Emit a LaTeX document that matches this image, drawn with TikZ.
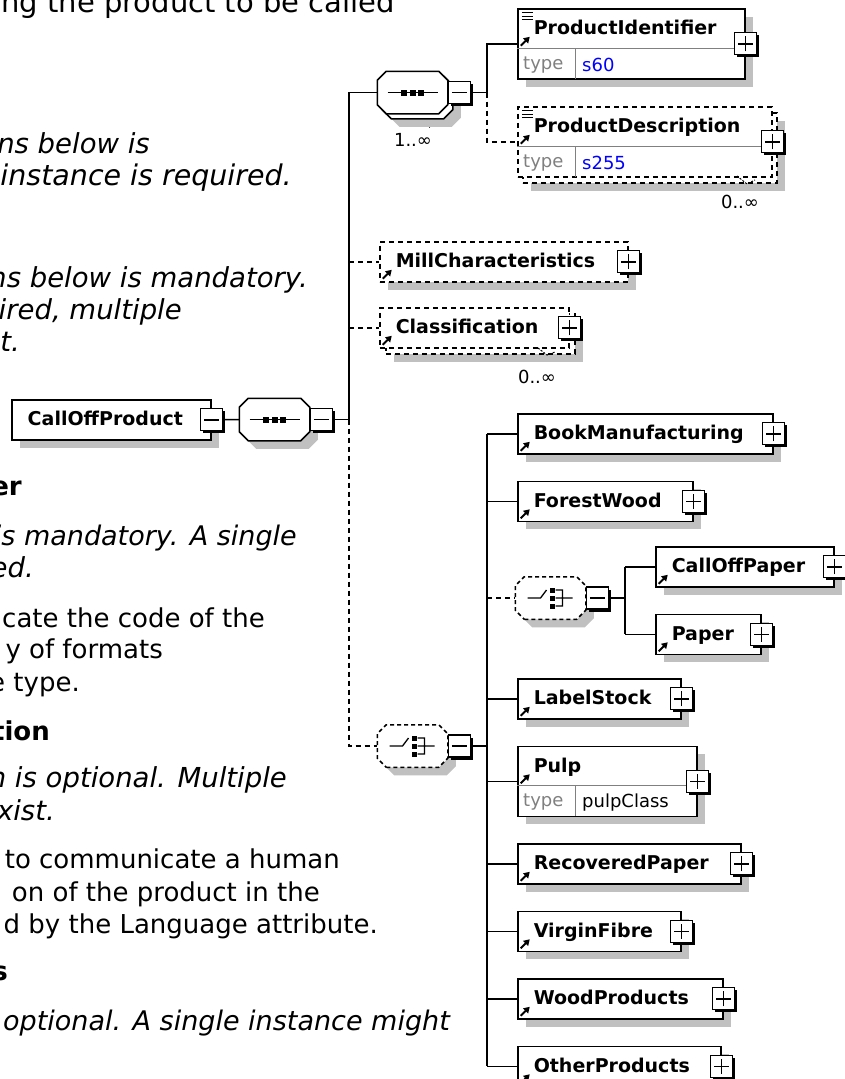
\documentclass[tikz,border=0pt]{standalone}
\usepackage{fontspec}
\setmainfont{DejaVu Sans}
\usetikzlibrary{arrows.meta,positioning,shadows}
\definecolor{ink}{HTML}{000000}
\definecolor{shade}{HTML}{C0C0C0}
\definecolor{rule}{HTML}{808080}
\definecolor{xsdblue}{HTML}{0000FF}

% compositor outline: a rectangle with 9pt cut corners
\makeatletter
\pgfdeclareshape{cutbox}{%
  \inheritsavedanchors[from=rectangle]%
  \inheritanchorborder[from=rectangle]%
  \inheritanchor[from=rectangle]{center}%
  \inheritanchor[from=rectangle]{north}%
  \inheritanchor[from=rectangle]{south}%
  \inheritanchor[from=rectangle]{east}%
  \inheritanchor[from=rectangle]{west}%
  \inheritanchor[from=rectangle]{north east}%
  \inheritanchor[from=rectangle]{north west}%
  \inheritanchor[from=rectangle]{south east}%
  \inheritanchor[from=rectangle]{south west}%
  \inheritanchor[from=rectangle]{text}%
  \inheritanchor[from=rectangle]{mid}%
  \inheritanchor[from=rectangle]{base}%
  \backgroundpath{%
    \southwest\pgf@xa=\pgf@x\pgf@ya=\pgf@y
    \northeast\pgf@xb=\pgf@x\pgf@yb=\pgf@y
    \pgf@xc=9pt
    \pgfpathmoveto{\pgfqpoint{\dimexpr\pgf@xa+\pgf@xc\relax}{\pgf@ya}}%
    \pgfpathlineto{\pgfqpoint{\dimexpr\pgf@xb-\pgf@xc\relax}{\pgf@ya}}%
    \pgfpathlineto{\pgfqpoint{\pgf@xb}{\dimexpr\pgf@ya+\pgf@xc\relax}}%
    \pgfpathlineto{\pgfqpoint{\pgf@xb}{\dimexpr\pgf@yb-\pgf@xc\relax}}%
    \pgfpathlineto{\pgfqpoint{\dimexpr\pgf@xb-\pgf@xc\relax}{\pgf@yb}}%
    \pgfpathlineto{\pgfqpoint{\dimexpr\pgf@xa+\pgf@xc\relax}{\pgf@yb}}%
    \pgfpathlineto{\pgfqpoint{\pgf@xa}{\dimexpr\pgf@yb-\pgf@xc\relax}}%
    \pgfpathlineto{\pgfqpoint{\pgf@xa}{\dimexpr\pgf@ya+\pgf@xc\relax}}%
    \pgfpathclose}}
\makeatother

\begin{document}
\begin{tikzpicture}[x=1pt,y=-1pt,
   every node/.style={inner sep=0pt},
   para/.style={anchor=base east,font=\fontsize{26}{32}\selectfont},
   parait/.style={para,font=\fontsize{27.5}{32}\selectfont\itshape},
   parahead/.style={para,font=\fontsize{26}{32}\selectfont\bfseries},
   wire/.style={draw=ink,line width=1.5pt},
   optwire/.style={wire,dash pattern=on 5pt off 4pt},
   opt/.style={dash pattern=on 5pt off 4pt},
   shadowed/.style={drop shadow={shadow xshift=8pt,shadow yshift=-8pt,fill=shade,opacity=1}},
   refarrow/.style={solid,draw=ink,line width=1.8pt,-{Triangle[length=6pt,width=7pt]}},
   box/.style={draw=ink,fill=white,line width=1.5pt,rectangle,anchor=north west,
               minimum height=40pt,text width=#1pt,align=left,text height=15pt,text depth=3pt,
               font=\fontsize{19}{22}\selectfont\bfseries,
               execute at begin node={\hspace*{16pt}}},
   ref/.style={path picture={\draw[refarrow] ([xshift=3pt,yshift=3pt]path picture bounding box.south west) -- ++(9pt,9pt);}},
   typed/.style={minimum height=70pt,text depth=33pt,
               path picture={\draw[refarrow] ([xshift=3pt,yshift=-37pt]path picture bounding box.north west) -- ++(9pt,9pt);}},
   documented/.style={typed,
               path picture={\draw[refarrow] ([xshift=3pt,yshift=-37pt]path picture bounding box.north west) -- ++(9pt,9pt);
                             \draw[solid,draw=ink,line width=1pt]
                               ([shift={(4pt,-4pt)}]path picture bounding box.north west) -- ++(11pt,0pt)
                               ([shift={(4pt,-7.5pt)}]path picture bounding box.north west) -- ++(11pt,0pt)
                               ([shift={(4pt,-11pt)}]path picture bounding box.north west) -- ++(11pt,0pt);}},
   elem/.style={box=#1,shadowed,ref},
   split/.style={draw=rule,line width=1pt,shorten <=0.75pt,shorten >=0.75pt},
   typekey/.style={anchor=west,text=rule,font=\fontsize{18}{20}\selectfont},
   typeval/.style={anchor=west,text=xsdblue,font=\fontsize{18}{20}\selectfont},
   mult/.style={font=\fontsize{18}{20}\selectfont},
   pm/.style={draw=ink,fill=white,line width=1.4pt,rectangle,minimum size=22pt,
              drop shadow={shadow xshift=2.5pt,shadow yshift=-2.5pt,fill=ink,opacity=1}},
   plusbox/.style={pm,path picture={\draw[line width=1.5pt]
         ([xshift=-7.5pt]path picture bounding box.center) -- ([xshift=7.5pt]path picture bounding box.center)
         ([yshift=-7.5pt]path picture bounding box.center) -- ([yshift=7.5pt]path picture bounding box.center);}},
   minusbox/.style={pm,path picture={\draw[line width=1.5pt]
         ([xshift=-7.5pt]path picture bounding box.center) -- ([xshift=7.5pt]path picture bounding box.center);}},
   comp/.style={cutbox,draw=ink,fill=white,line width=1.5pt,minimum width=69pt,minimum height=41pt},
   seqbox/.style={comp,path picture={
         \draw[solid,line width=1.3pt] ([xshift=-25pt]path picture bounding box.center) -- ([xshift=25pt]path picture bounding box.center);
         \foreach \d in {-8.5,0,8.5}
           \fill[ink] ([xshift=\d pt]path picture bounding box.center) +(-3pt,-3pt) rectangle +(3pt,3pt);}},
   choicebox/.style={comp,dash pattern=on 4pt off 3pt,path picture={
         \path (path picture bounding box.center) coordinate (cc);
         \draw[solid,line width=1.3pt] ([xshift=-23pt]cc) -- ([xshift=-10pt]cc) -- ([shift={(-4pt,8pt)}]cc)
              ([shift={(5pt,8pt)}]cc) -- ([shift={(12pt,8pt)}]cc) -- ([shift={(12pt,-8pt)}]cc) -- ([shift={(5pt,-8pt)}]cc)
              ([xshift=5pt]cc) -- ([xshift=22pt]cc);
         \foreach \d in {-8,0,8}
           \fill[ink] ([shift={(2pt,\d pt)}]cc) +(-2.5pt,-2.5pt) rectangle +(2.5pt,2.5pt);}}]

  \path[use as bounding box,fill=white] (0,0) rectangle (844,1079);

  % document text on the left, cut by the page edge
  \begin{scope}
    \clip (0,0) rectangle (844,1079);
    \node[para,font=\fontsize{29}{34}\selectfont] (t1) at (395,12) {ng the product to be called};
    \node[parait]   (t2)  at (150,153)  {ns below is};
    \node[parait,font=\fontsize{28.5}{32}\selectfont\itshape] (t3) at (292,185) {instance is required.};
    \node[parait]   (t4)  at (308,287)  {ms below is mandatory.};
    \node[parait]   (t5)  at (182,319)  {uired, multiple};
    \node[parait]   (t6)  at (20,351)   {st.};
    \node[parahead] (t7)  at (22,495)   {er};
    \node[parait,font=\fontsize{27}{32}\selectfont\itshape] (t8) at (297,545) {is mandatory. A single};
    \node[parait]   (t9)  at (34,577)   {ed.};
    \node[para]     (t10) at (265,627)  {cate the code of the};
    \node[para]     (t11) at (163,658)  {y of formats};
    \node[para]     (t12) at (80,691)   {e type.};
    \node[parahead] (t13) at (50,740)   {tion};
    \node[parait]   (t14) at (287,787)  {n is optional. Multiple};
    \node[parait]   (t15) at (55,820)   {exist.};
    \node[para]     (t16) at (340,868)  {to communicate a human};
    \node[para]     (t17) at (320,901)  {on of the product in the};
    \node[para]     (t18) at (378,933)  {d by the Language attribute.};
    \node[parahead] (t19) at (8,980)    {s};
    \node[parait,font=\fontsize{27}{32}\selectfont\itshape] (t20) at (450,1030) {t optional. A single instance might};
  \end{scope}

  % root element and its sequence
  \node[box=199,shadowed] (root) at (11,399) {CallOffProduct};
  \node[minusbox] (root-m) at (root.east) {};
  \node[seqbox,shadowed] (seq) at (274.5,419.5) {};
  \node[minusbox,right=0pt of seq] (seq-m) {};
  \coordinate (trunk) at (349,419.5);

  % 1..oo sequence with identifier and description
  \draw[draw=ink,fill=white,line width=1pt] (419,113) -- (440,113) -- (429.5,127) -- cycle;
  \node[seqbox,shadowed] (prods-back) at (417.5,97.5) {};
  \node[seqbox] (prods) at (412.5,92.5) {};
  \node[minusbox,right=0pt of prods] (prods-m) {};
  \node[mult] (prods-n) at (413,140) {1..∞};
  \coordinate (fork) at (487,92.5);

  \node[elem=227,documented] (pid) at (517,8) {ProductIdentifier};
  \draw[split] ([yshift=-40pt]pid.north west) -- ([yshift=-40pt]pid.north east)
               ([shift={(58pt,-40pt)}]pid.north west) -- ([xshift=58pt]pid.south west);
  \node[typekey] (pid-k) at ([shift={(6pt,-57pt)}]pid.north west) {type};
  \node[typeval] (pid-v) at ([shift={(65pt,-57pt)}]pid.north west) {s60};
  \node[plusbox] (pid-x) at (pid.east) {};

  \node[box=254,opt,shadowed,minimum height=70pt] (pdesc-back) at (522,112) {};
  \node[box=254,opt,documented] (pdesc) at (517,106) {ProductDescription};
  \draw[split] ([yshift=-40pt]pdesc.north west) -- ([yshift=-40pt]pdesc.north east)
               ([shift={(58pt,-40pt)}]pdesc.north west) -- ([xshift=58pt]pdesc.south west);
  \node[typekey] (pdesc-k) at ([shift={(6pt,-57pt)}]pdesc.north west) {type};
  \node[typeval] (pdesc-v) at ([shift={(65pt,-57pt)}]pdesc.north west) {s255};
  \node[plusbox] (pdesc-x) at (pdesc.east) {};
  \draw[ink,line width=1pt,dash pattern=on 2pt off 1.5pt] (737,176) -- (747,184) -- (755,180);
  \node[mult] (pdesc-n) at (740,202) {0..∞};

  % optional elements
  \node[elem=248,opt] (mill) at (379,241) {MillCharacteristics};
  \node[plusbox] (mill-x) at (mill.east) {};

  \node[box=189,opt,shadowed] (cls-back) at (385,313) {};
  \node[box=189,opt,ref] (cls) at (379,307) {Classification};
  \node[plusbox] (cls-x) at (cls.east) {};
  \draw[ink,line width=1pt,dash pattern=on 2pt off 1.5pt] (538,348) -- (547,355) -- (555,352);
  \node[mult] (cls-n) at (537,377) {0..∞};

  % optional choice of product kinds
  \node[choicebox,shadowed] (kind) at (412.5,746) {};
  \node[minusbox,right=0pt of kind] (kind-m) {};
  \coordinate (spine) at (487,746);

  \node[elem=255] (book) at (517,413) {BookManufacturing};
  \node[plusbox] (book-x) at (book.east) {};
  \node[elem=175,below right=26pt and 0pt of book.south west] (forest) {ForestWood};
  \node[plusbox] (forest-x) at (forest.east) {};

  \node[choicebox,shadowed] (paperkind) at (550.5,598) {};
  \node[minusbox,right=0pt of paperkind] (paperkind-m) {};
  \coordinate (twig) at (625,598);
  \node[elem=178] (cop) at (655,546) {CallOffPaper};
  \node[plusbox] (cop-x) at (cop.east) {};
  \node[elem=105,below right=26pt and 0pt of cop.south west] (paper) {Paper};
  \node[plusbox] (paper-x) at (paper.east) {};

  \node[elem=163] (label) at (517,678) {LabelStock};
  \node[plusbox] (label-x) at (label.east) {};
  \node[elem=179,typed,below right=26pt and 0pt of label.south west] (pulp) {Pulp};
  \draw[split] ([yshift=-40pt]pulp.north west) -- ([yshift=-40pt]pulp.north east)
               ([shift={(58pt,-40pt)}]pulp.north west) -- ([xshift=58pt]pulp.south west);
  \node[typekey] (pulp-k) at ([shift={(6pt,-57pt)}]pulp.north west) {type};
  \node[typeval,text=ink] (pulp-v) at ([shift={(65pt,-57pt)}]pulp.north west) {pulpClass};
  \node[plusbox] (pulp-x) at (pulp.east) {};
  \node[elem=223,below right=26pt and 0pt of pulp.south west] (recov) {RecoveredPaper};
  \node[plusbox] (recov-x) at (recov.east) {};
  \node[elem=163,below right=26pt and 0pt of recov.south west] (virgin) {VirginFibre};
  \node[plusbox] (virgin-x) at (virgin.east) {};
  \node[elem=205,below right=26pt and 0pt of virgin.south west] (wood) {WoodProducts};
  \node[plusbox] (wood-x) at (wood.east) {};
  \node[elem=203,below right=26pt and 0pt of wood.south west] (other) {OtherProducts};
  \node[plusbox] (other-x) at (other.east) {};

  % connectors
  \draw[wire] (root-m.east) -- (seq.west);
  \draw[wire] (seq-m.east) -- (trunk) |- (prods.west);
  \draw[optwire] (trunk) |- (kind.west);
  \draw[optwire] (trunk |- mill.west) -- (mill.west);
  \draw[optwire] (trunk |- cls.west) -- (cls.west);

  \draw[wire] (prods-m.east) -- (fork) |- (pid.west);
  \draw[optwire] (fork) |- (pdesc.west);

  \draw[wire] (kind-m.east) -- (spine);
  \draw[wire] (spine |- book.west) -- (spine |- other.west);
  \draw[wire] (spine |- book.west) -- (book.west);
  \draw[wire] (spine |- forest.west) -- (forest.west);
  \draw[optwire] (spine |- paperkind.west) -- (paperkind.west);
  \draw[wire] (spine |- label.west) -- (label.west);
  \draw[wire] (spine |- pulp.west) -- (pulp.west);
  \draw[wire] (spine |- recov.west) -- (recov.west);
  \draw[wire] (spine |- virgin.west) -- (virgin.west);
  \draw[wire] (spine |- wood.west) -- (wood.west);
  \draw[wire] (spine |- other.west) -- (other.west);

  \draw[wire] (paperkind-m.east) -- (twig);
  \draw[wire] (twig |- cop.west) -- (twig |- paper.west);
  \draw[wire] (twig |- cop.west) -- (cop.west);
  \draw[wire] (twig |- paper.west) -- (paper.west);
\end{tikzpicture}
\end{document}
